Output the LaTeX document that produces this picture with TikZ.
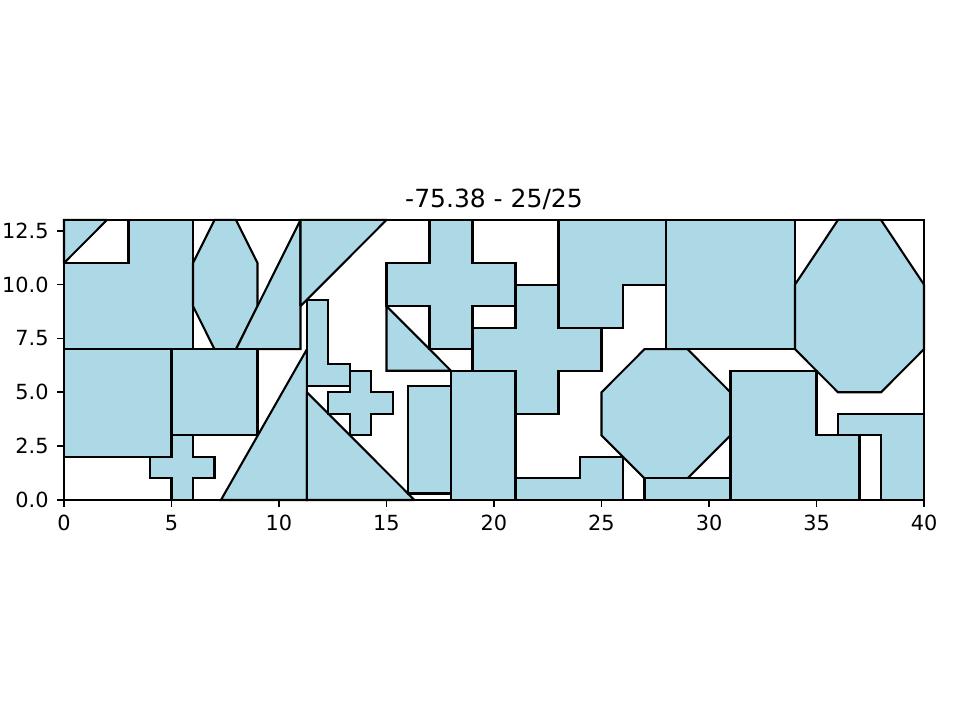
\documentclass[tikz,border=0pt]{standalone}
\usepackage{fontspec}
\setmainfont{DejaVu Sans}
\definecolor{bleuclair}{HTML}{ADD8E6}
\begin{document}
\begin{tikzpicture}[x=10.32pt,y=10.34pt,
	piece/.style={fill=bleuclair,draw=black,line width=1pt,miter limit=2},
	cadre/.style={line width=0.8pt}]
	\useasboundingbox (-30.72pt,-105.6pt) rectangle (430.08pt,240pt);
	%les pieces, colonne de gauche
	\draw[piece] (0,11) -- (2,13) -- (0,13) -- cycle;
	\draw[piece] (0,7) -- (6,7) -- (6,13) -- (3,13) -- (3,11) -- (0,11) -- cycle;
	\draw[piece] (7,13) -- (8,13) -- (9,11) -- (9,9) -- (8,7) -- (7,7) -- (6,9) -- (6,11) -- cycle;
	\draw[piece] (8,7) -- (11,7) -- (11,13) -- cycle;
	\draw[piece] (11,9) -- (15,13) -- (11,13) -- cycle;
	\draw[piece] (0,2) rectangle (5,7);
	\draw[piece] (5,3) rectangle (9,7);
	\draw[piece] (4,1) -- (5,1) -- (5,0) -- (6,0) -- (6,1) -- (7,1) -- (7,2) -- (6,2) -- (6,3) -- (5,3) -- (5,2) -- (4,2) -- cycle;
	%milieu
	\draw[piece] (7.3,0) -- (11.3,0) -- (11.3,7) -- cycle;
	\draw[piece] (11.3,0) -- (16.3,0) -- (11.3,5) -- cycle;
	\draw[piece] (11.3,5.3) -- (13.3,5.3) -- (13.3,6.3) -- (12.3,6.3) -- (12.3,9.3) -- (11.3,9.3) -- cycle;
	\draw[piece] (12.3,4) -- (13.3,4) -- (13.3,3) -- (14.3,3) -- (14.3,4) -- (15.3,4) -- (15.3,5) -- (14.3,5) -- (14.3,6) -- (13.3,6) -- (13.3,5) -- (12.3,5) -- cycle;
	\draw[piece] (16,0.3) rectangle (18,5.3);
	\draw[piece] (15,9) -- (15,6) -- (18,6) -- cycle;
	\draw[piece] (15,9) -- (17,9) -- (17,7) -- (19,7) -- (19,9) -- (21,9) -- (21,11) -- (19,11) -- (19,13) -- (17,13) -- (17,11) -- (15,11) -- cycle;
	\draw[piece] (18,0) rectangle (21,6);
	\draw[piece] (19,6) -- (21,6) -- (21,4) -- (23,4) -- (23,6) -- (25,6) -- (25,8) -- (23,8) -- (23,10) -- (21,10) -- (21,8) -- (19,8) -- cycle;
	\draw[piece] (23,8) -- (26,8) -- (26,10) -- (28,10) -- (28,13) -- (23,13) -- cycle;
	\draw[piece] (21,0) -- (26,0) -- (26,2) -- (24,2) -- (24,1) -- (21,1) -- cycle;
	%droite
	\draw[piece] (27,7) -- (29,7) -- (31,5) -- (31,3) -- (29,1) -- (27,1) -- (25,3) -- (25,5) -- cycle;
	\draw[piece] (27,0) rectangle (31,1);
	\draw[piece] (28,7) rectangle (34,13);
	\draw[piece] (34,10) -- (36,13) -- (38,13) -- (40,10) -- (40,7) -- (38,5) -- (36,5) -- (34,7) -- cycle;
	\draw[piece] (31,0) -- (37,0) -- (37,3) -- (35,3) -- (35,6) -- (31,6) -- cycle;
	\draw[piece] (36,3) -- (38,3) -- (38,0) -- (40,0) -- (40,4) -- (36,4) -- cycle;
	%fin
	%cadre et axes
	\draw[cadre] (0,0) rectangle (40,13);
	\foreach \x in {0,5,...,40}
		\draw[cadre] (\x,0) -- ++(0,-3.5pt) node[below=3.5pt,inner sep=0pt,font=\fontsize{10}{12}\selectfont] (xl\x) {\x};
	\foreach \y/\lab [count=\i] in {0/0.0,2.5/2.5,5/5.0,7.5/7.5,10/10.0,12.5/12.5}
		\draw[cadre] (0,\y) -- ++(-3.5pt,0) node[left=3.5pt,inner sep=0pt,font=\fontsize{10}{12}\selectfont] (yl\i) {\lab};
	%titre
	\node[anchor=base,yshift=6pt,inner sep=0pt,font=\fontsize{12}{14}\selectfont] (titre) at (20,13) {-75.38 - 25/25};
\end{tikzpicture}
\end{document}
